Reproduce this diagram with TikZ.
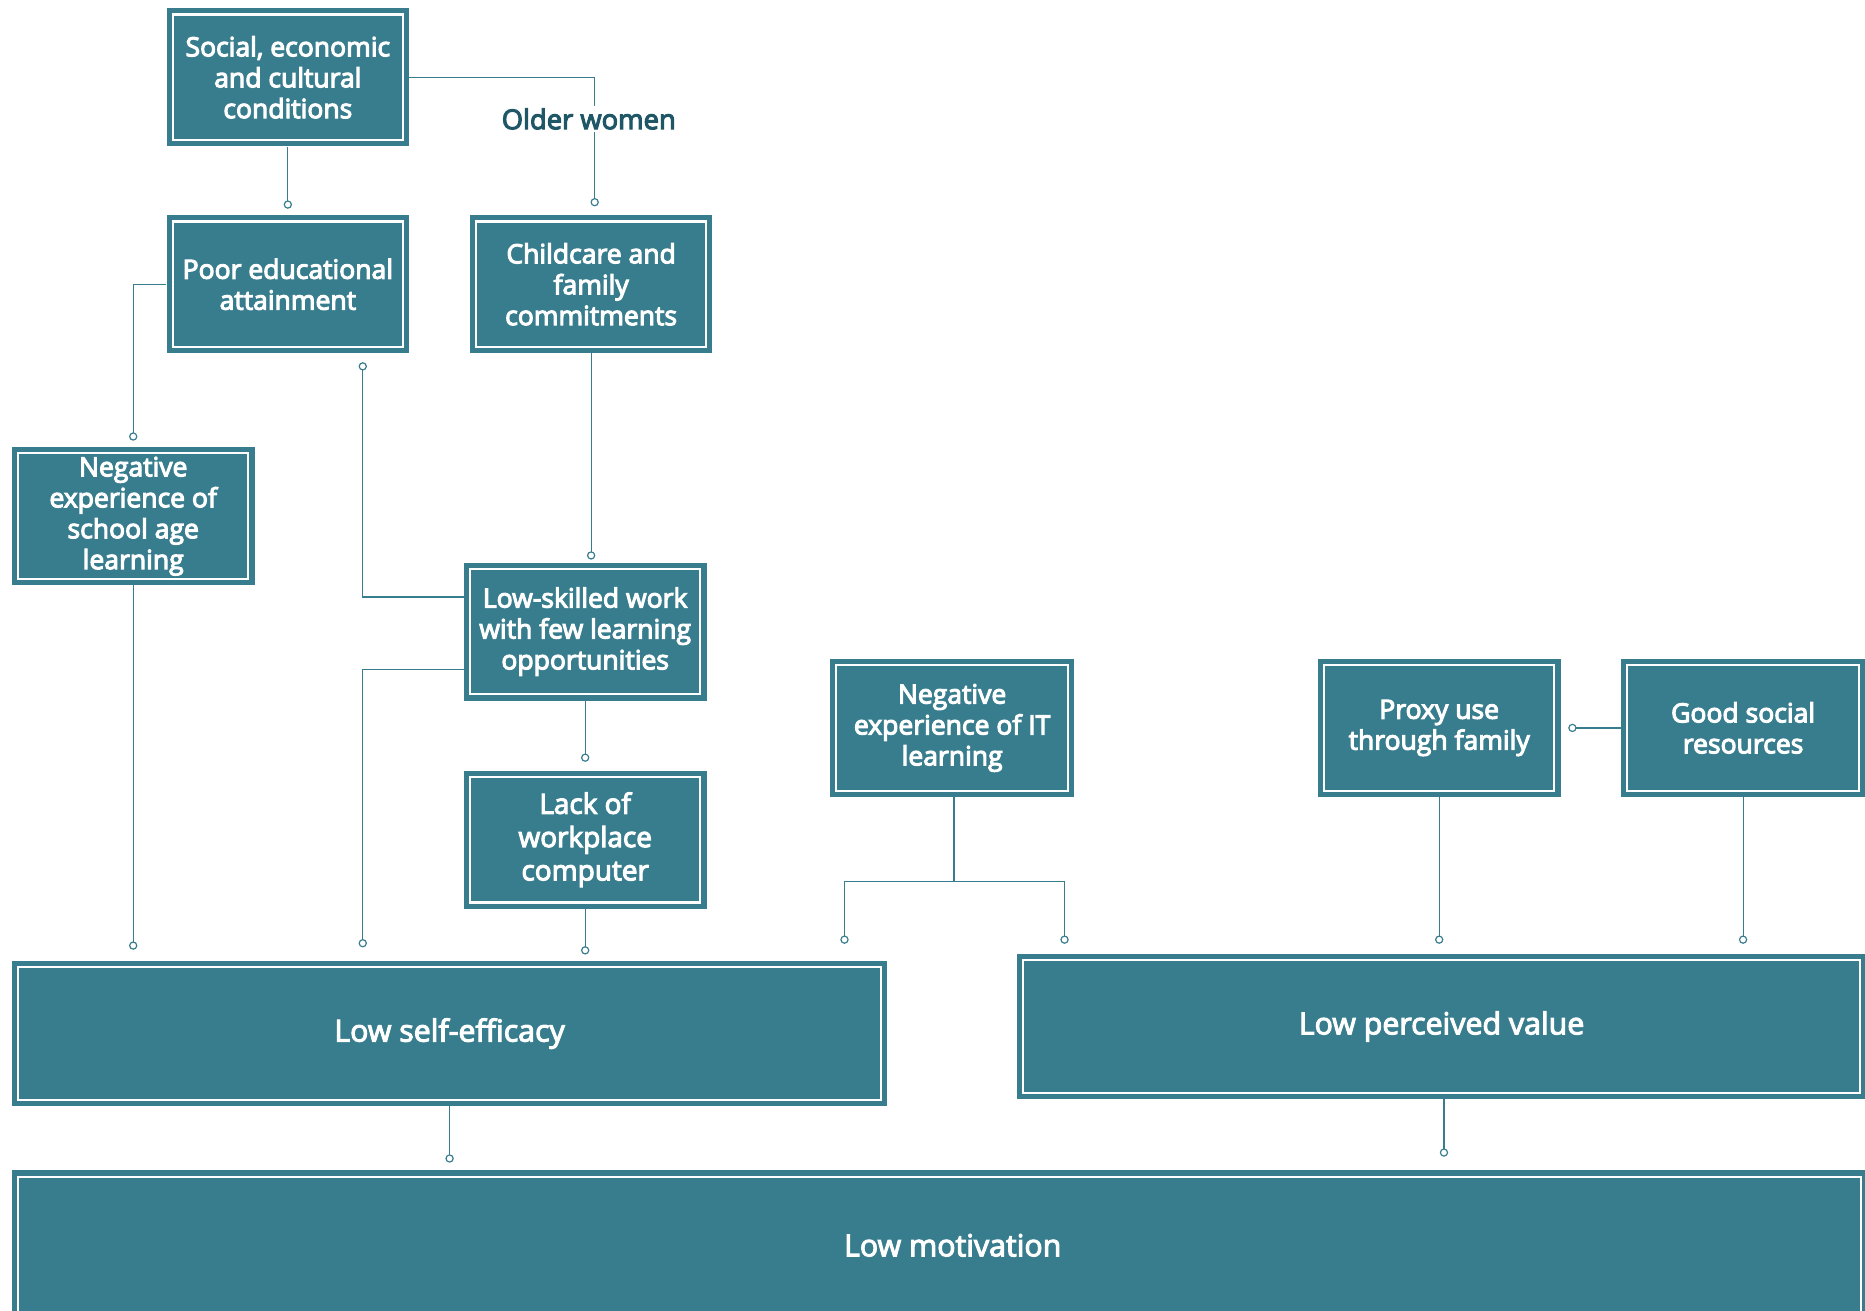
\documentclass[tikz,border=0pt]{standalone}
\usepackage{fontspec}
\setmainfont{Open Sans}
\usetikzlibrary{arrows.meta}
\definecolor{teal1}{HTML}{387D8E}
\definecolor{dark1}{HTML}{1F5767}
\newcommand{\emb}{\special{pdf:literal direct 2 Tr 0.9 w}}
\begin{document}
\begin{tikzpicture}[x=1pt,y=-1pt,
  box/.style={fill=teal1, text=white, align=center, minimum width=204pt, minimum height=116pt, inner sep=0pt, font=\fontsize{22.3}{26}\selectfont\emb},
  bigbox/.style={box, font=\fontsize{25.5}{26}\selectfont\emb},
  conn/.style={draw=teal1, line width=1pt, -{Circle[open,length=7pt,width=7pt,fill=white]}},
  plain/.style={draw=teal1, line width=1pt},
  lbl/.style={fill=white, text=dark1, inner sep=2pt, font=\fontsize{23}{26}\selectfont\emb}]
\useasboundingbox (0,0) rectangle (1568,1102);
% boxes
\node[box] (soc) at (242,65) {Social, economic\\and cultural\\conditions};
\node[box] (poor) at (242,239) {Poor educational\\attainment};
\node[box] (child) at (497,239) {Childcare and\\family\\commitments};
\node[box] (neg) at (112,434) {Negative\\experience of\\school age\\learning};
\node[box, font=\fontsize{23.5}{28}\selectfont\emb] (lack) at (492,706) {Lack of\\workplace\\computer};
\node[box] (ls) at (492,531) {Low-skilled work\\with few learning\\opportunities};
\node[box, minimum width=205pt] (nit) at (800.5,612) {Negative\\experience of IT\\learning};
\node[box] (proxy) at (1210,612) {Proxy use\\through family};
\node[box, minimum width=205pt] (good) at (1465.5,612) {Good social\\resources};
\node[bigbox, minimum width=736pt, minimum height=122pt] (lse) at (378,869) {Low self-efficacy};
\node[bigbox, minimum width=714pt, minimum height=122pt] (lpv) at (1212,863) {Low perceived value};
\node[bigbox, minimum width=1560pt, minimum height=126pt] (lm) at (790,1047) {\hspace*{22pt}Low motivation};
\foreach \n in {soc,poor,child,neg,ls,lack,nit,proxy,good,lse,lpv,lm}
  \draw[white, line width=1.8pt] ([shift={(5.4pt,-5.4pt)}]\n.north west) rectangle ([shift={(-5.4pt,5.4pt)}]\n.south east);
% free ends
\coordinate (c1) at (242,175.5);
\coordinate (c2) at (500,173.5);
\coordinate (c3) at (112,370.5);
\coordinate (c4) at (305,304.5);
\coordinate (c5) at (497,470.5);
\coordinate (c6) at (305,796.5);
\coordinate (c7) at (492,640.5);
\coordinate (c8) at (492,802.5);
\coordinate (c9) at (112,798.5);
\coordinate (j) at (802,741);
\coordinate (c10) at (710,793.5);
\coordinate (c11) at (895,793.5);
\coordinate (c12) at (1210,793.5);
\coordinate (c13) at (1465.5,793.5);
\coordinate (c14) at (1318.5,612);
\coordinate (c15) at (378,977.5);
\coordinate (c16) at (1214,972.5);
% connectors
\draw[conn] (soc.south) -- (c1);
\draw[conn] (soc.east) -| (c2);
\node[lbl] (ow) at (495,100) {Older women};
\draw[conn] (poor.west) -| (c3);
\draw[conn] ([yshift=29pt]ls.west) -| (c4);
\draw[conn] (child.south) -- (c5);
\draw[conn] ([yshift=-32pt]ls.west) -| (c6);
\draw[conn] (ls.south) -- (c7);
\draw[conn] (lack.south) -- (c8);
\draw[conn] (neg.south) -- (c9);
\draw[plain] (nit.south -| j) -- (j);
\draw[conn] (j) -| (c10);
\draw[conn] (j) -| (c11);
\draw[conn] (proxy.south) -- (c12);
\draw[conn] (good.south) -- (c13);
\draw[conn] (good.west) -- (c14);
\draw[conn] (lse.south) -- (c15);
\draw[conn] (lpv.south -| c16) -- (c16);
\end{tikzpicture}
\end{document}
